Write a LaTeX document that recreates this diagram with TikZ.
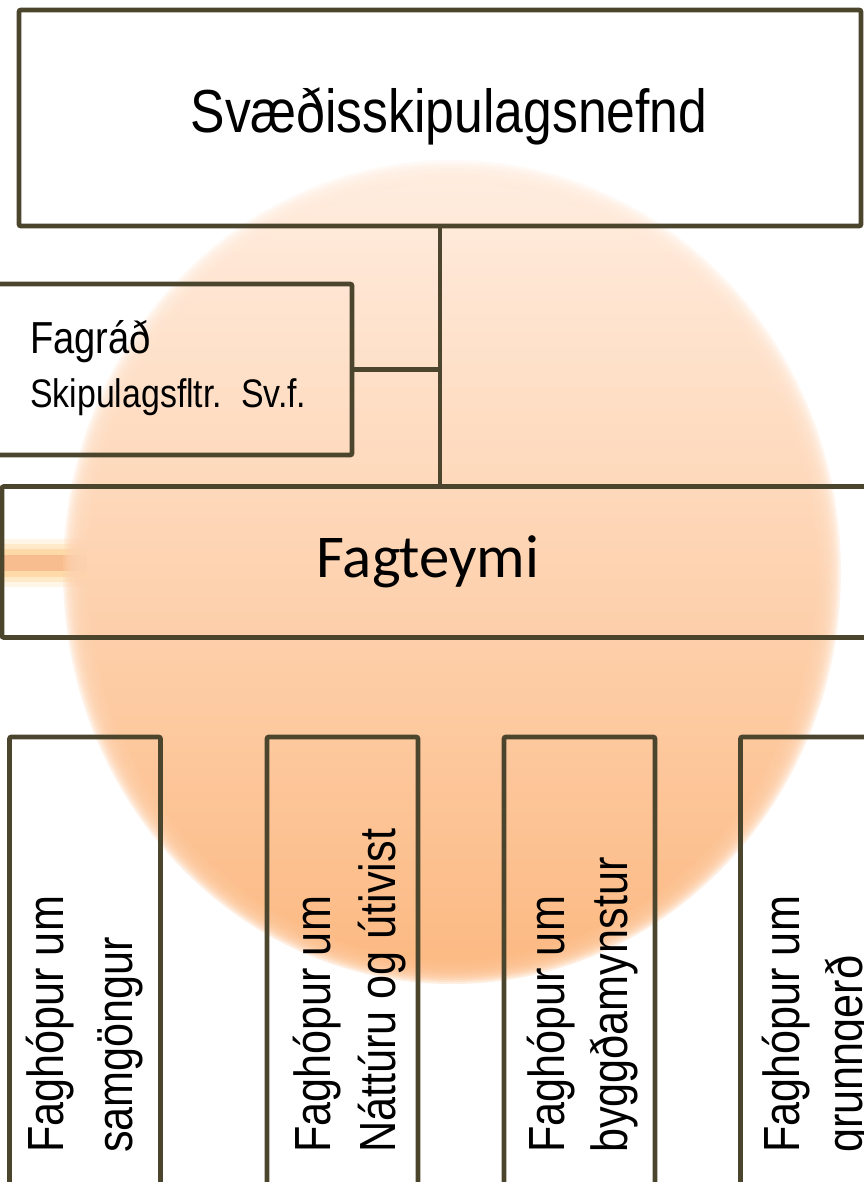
\documentclass[tikz,border=0pt]{standalone}
\usepackage{fontspec}
\setmainfont{Liberation Sans}
\newfontfamily\narrowsans{Liberation Sans}[FakeStretch=0.85]
\newfontfamily\teamfont{Carlito}
\definecolor{edge}{RGB}{76,69,46}
\definecolor{blobtop}{RGB}{255,236,222}
\definecolor{blobbottom}{RGB}{252,186,132}
\definecolor{stub1}{RGB}{255,246,232}
\definecolor{stub2}{RGB}{254,234,200}
\definecolor{stub3}{RGB}{253,218,168}
\definecolor{stub4}{RGB}{248,189,142}
\begin{document}
\begin{tikzpicture}[x=1bp,y=-1bp]

	\tikzstyle{frame}=[draw=edge,line width=4.8bp,
		rounded corners=2bp,inner sep=0pt]
	\tikzstyle{group}=[frame,minimum width=151bp,minimum height=520bp]
	\tikzstyle{link}=[draw=edge,line width=4.8bp]
	\tikzstyle{grouptext}=[rotate=90,anchor=base west,inner sep=0pt,
		font=\narrowsans\fontsize{51}{60}\selectfont]

	\useasboundingbox (0,0) rectangle (864,1182);
	\clip (0,0) rectangle (864,1182);

	% glowing stub left of the circle
	\foreach \w/\c in {48/stub1,38/stub2,28/stub3,16/stub4}
		\draw[line width=\w bp,color=\c] (0,563) -- (95,563);

	% soft edged circle behind the boxes
	\foreach \d in {12,10,...,-12}
		\shade[top color=blobtop,bottom color=blobbottom,fill opacity=0.25]
			(452,572) ellipse [x radius={377+\d},y radius={400+\d}];
	\shade[top color=blobtop,bottom color=blobbottom]
		(452,572) ellipse [x radius=365,y radius=388];

	\node[frame,minimum width=842bp,minimum height=216bp]	(plan)	at (440,118)	{};
	\node[frame,minimum width=432bp,minimum height=171bp]	(council)	at (136,369.5)	{};
	\node[frame,minimum width=938bp,minimum height=151bp]	(team)	at (471,562)	{};
	\node[group]	(g1)	at (85,997)	{};
	\node[group]	(g2)	at (342.5,997)	{};
	\node[group]	(g3)	at (579.5,997)	{};
	\node[group]	(g4)	at (816,997)	{};

	\draw[link] (plan.south) -- (plan.south |- team.north);
	\draw[link] (council.east) -- (council.east -| plan.south);

	\node[anchor=base,font=\narrowsans\fontsize{61}{70}\selectfont]	(plantext)	at (449,132)	{Svæðisskipulagsnefnd};
	\node[anchor=base west,inner sep=0pt,font=\narrowsans\fontsize{45}{52}\selectfont]
		(counciltext)	at (30,353)	{Fagráð};
	\node[anchor=base west,inner sep=0pt,font=\narrowsans\fontsize{40}{47}\selectfont]
		(councilsub)	at (30,407)	{Skipulagsfltr.\ \ Sv.f.};
	\node[anchor=base,font=\teamfont\fontsize{61}{70}\selectfont]	(teamtext)	at (428,577)	{Fagteymi};

	\node[grouptext]	(g1a)	at (63,1153)	{Faghópur um};
	\node[grouptext]	(g1b)	at (132,1153)	{samgöngur};
	\node[grouptext]	(g2a)	at (330,1153)	{Faghópur um};
	\node[grouptext]	(g2b)	at (395,1153)	{Náttúru og útivist};
	\node[grouptext]	(g3a)	at (564,1153)	{Faghópur um};
	\node[grouptext]	(g3b)	at (627,1153)	{byggðamynstur};
	\node[grouptext]	(g4a)	at (799,1153)	{Faghópur um};
	\node[grouptext]	(g4b)	at (862,1153)	{grunngerð};

\end{tikzpicture}
\end{document}
